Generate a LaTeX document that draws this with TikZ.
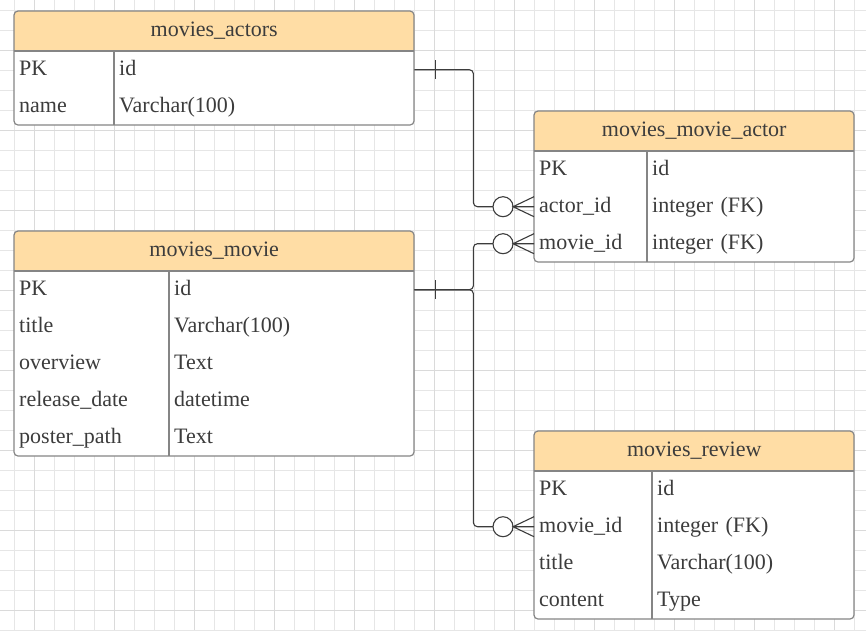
\documentclass[tikz,border=0pt]{standalone}
\usepackage{fontspec}
\setmainfont{Liberation Serif}
\definecolor{headfill}{HTML}{FFDDA5}
\definecolor{tborder}{HTML}{858585}
\definecolor{txt}{HTML}{3C3C3C}
\definecolor{minor}{HTML}{E6E6E6}
\definecolor{major}{HTML}{DADADA}
\begin{document}
\begin{tikzpicture}[x=1pt, y=-1pt,
    tbl/.style={draw=tborder, line width=1.2pt},
    rel/.style={draw=txt, line width=1.1pt, rounded corners=4pt},
    head/.style={anchor=north west, minimum height=40pt, inner sep=0pt, text=txt,
        font=\fontsize{22}{26}\selectfont, text height=10.5pt, text depth=0pt},
    cell/.style={anchor=north west, minimum height=37pt, inner xsep=5pt, inner ysep=0pt,
        align=left, text=txt, font=\fontsize{22}{26}\selectfont, text height=11pt, text depth=0pt}]
    \useasboundingbox [fill=white] (0,0) rectangle (866,630);
    \foreach \gx in {14,34,...,854}
        \draw [minor, line width=0.7pt] (\gx,0) -- (\gx,630);
    \foreach \gy in {10,30,...,630}
        \draw [minor, line width=0.7pt] (0,\gy) -- (866,\gy);
    \foreach \gx in {34,114,...,834}
        \draw [major, line width=0.7pt] (\gx,0) -- (\gx,630);
    \foreach \gy in {50,130,...,610}
        \draw [major, line width=0.7pt] (0,\gy) -- (866,\gy);
    \foreach \L/\T/\W/\D/\n in {14/11/400/114/2, 14/231/400/169/5, 534/111/320/647/3, 534/431/320/652/4} {
        \fill [white, rounded corners=4pt] (\L,\T) rectangle ++(\W,{40+37*\n});
        \fill [headfill, rounded corners=4pt] (\L,\T) rectangle ++(\W,40);
        \fill [headfill] (\L,{\T+20}) rectangle ++(\W,20);
        \draw [tbl] (\L,{\T+40}) -- ++(\W,0);
        \draw [tbl] (\D,{\T+40}) -- (\D,{\T+40+37*\n});
        \draw [tbl, rounded corners=4pt] (\L,\T) rectangle ++(\W,{40+37*\n});
    }
    \node [head, minimum width=400pt] (actors) at (14,11) {movies\_actors};
    \node [head, minimum width=400pt] (movie) at (14,231) {movies\_movie};
    \node [head, minimum width=320pt] (mma) at (534,111) {movies\_movie\_actor};
    \node [head, minimum width=320pt] (review) at (534,431) {movies\_review};
    \foreach \k/\t [count=\i] in {PK/id, name/Varchar(100)} {
        \node [cell, text width=90pt] (actors-k\i) at (14,{51+37*(\i-1)}) {\k};
        \node [cell, text width=290pt] (actors-t\i) at (114,{51+37*(\i-1)}) {\t};
    }
    \foreach \k/\t [count=\i] in {PK/id, title/Varchar(100), overview/Text, release\_date/datetime, poster\_path/Text} {
        \node [cell, text width=145pt] (movie-k\i) at (14,{271+37*(\i-1)}) {\k};
        \node [cell, text width=235pt] (movie-t\i) at (169,{271+37*(\i-1)}) {\t};
    }
    \foreach \k/\t [count=\i] in {PK/id, actor\_id/integer (FK), movie\_id/integer (FK)} {
        \node [cell, text width=103pt] (mma-k\i) at (534,{151+37*(\i-1)}) {\k};
        \node [cell, text width=197pt] (mma-t\i) at (647,{151+37*(\i-1)}) {\t};
    }
    \foreach \k/\t [count=\i] in {PK/id, movie\_id/integer (FK), title/Varchar(100), content/Type} {
        \node [cell, text width=108pt] (review-k\i) at (534,{471+37*(\i-1)}) {\k};
        \node [cell, text width=192pt] (review-t\i) at (652,{471+37*(\i-1)}) {\t};
    }
    \draw [rel] (actors-t1.east) -- ([xshift=59pt]actors-t1.east) |- ([xshift=-41pt]mma-k2.west);
    \draw [rel] (movie-t1.east) -- ([xshift=59pt]movie-t1.east) |- ([xshift=-41pt]mma-k3.west);
    \draw [rel] (movie-t1.east) -- ([xshift=59pt]movie-t1.east) |- ([xshift=-41pt]review-k2.west);
    \foreach \n in {actors-t1, movie-t1}
        \draw [rel] ([xshift=21pt, yshift=9.5pt]\n.east) -- ([xshift=21pt, yshift=-9.5pt]\n.east);
    \foreach \n in {mma-k2, mma-k3, review-k2} {
        \draw [rel, fill=white] ([xshift=-31pt]\n.west) circle (10pt);
        \draw [rel, sharp corners] ([yshift=10pt]\n.west) -- ([xshift=-21pt]\n.west) -- ([yshift=-10pt]\n.west)
            ([xshift=-21pt]\n.west) -- (\n.west);
    }
\end{tikzpicture}
\end{document}
